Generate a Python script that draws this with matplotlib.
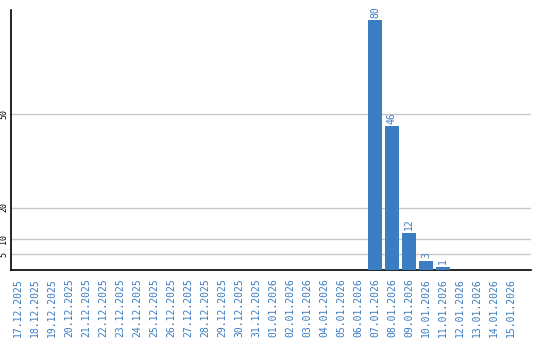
import matplotlib
matplotlib.use("Agg")
import matplotlib.pyplot as plt
import pandas as pd

dates = pd.date_range("2025-12-17", "2026-01-15").strftime("%d.%m.%Y").tolist()
values = [0]*21 + [80, 46, 12, 3, 1] + [0]*4
yticks = [5, 10, 20, 50]

bar_color = "#3b7dc3"
text_color = "#3a7bbf"

fig = plt.figure(figsize=(5.4, 3.4), dpi=100)
ax = fig.add_axes([11/540, 70/340, 520/540, 260/340])
x = list(range(len(dates)))
bars = ax.bar(x, values, width=0.82, color=bar_color, zorder=3)
for xi, v in zip(x, values):
    if v > 0:
        ax.text(xi, v + 0.8, str(v), rotation=90, ha="center", va="bottom",
                color=text_color, fontsize=7, family="DejaVu Sans Mono")

ax.set_xlim(-0.41, 30.18)
ax.set_ylim(0, 83.2)
ax.set_yticks(yticks)
ax.set_yticklabels([str(t) for t in yticks], rotation=90, va="center",
                   fontsize=6, family="DejaVu Sans Mono")
ax.tick_params(axis="y", length=0, pad=2)
ax.set_xticks(x)
ax.set_xticklabels(dates, rotation=90, color=text_color, fontsize=7,
                   family="DejaVu Sans Mono")
ax.tick_params(axis="x", length=0, pad=6)
ax.grid(axis="y", color="#c8c8c8", linewidth=1, zorder=0)
for s in ["top", "right"]:
    ax.spines[s].set_visible(False)
ax.spines["left"].set_linewidth(1.2)
ax.spines["bottom"].set_linewidth(1.2)
fig.savefig("out.png", dpi=100)
